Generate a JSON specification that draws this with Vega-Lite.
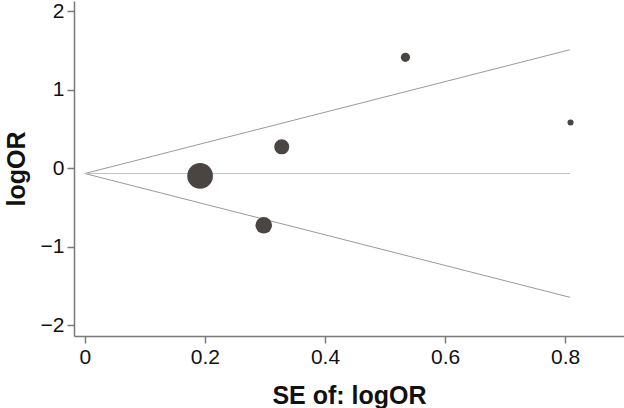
{
  "$schema": "https://vega.github.io/schema/vega-lite/v6.json",
  "width": 550,
  "height": 335,
  "autosize": "none",
  "padding": {"left": 74, "top": 1, "right": 0, "bottom": 72},
  "background": "white",
  "config": {
    "view": {"stroke": null},
    "font": "Liberation Sans",
    "axis": {
      "grid": false,
      "domainColor": "#7a7a7a",
      "domainWidth": 1.5,
      "tickColor": "#7a7a7a",
      "tickWidth": 1.5,
      "tickSize": 7,
      "labelFont": "Liberation Sans",
      "labelFontSize": 21,
      "labelColor": "#111",
      "labelPadding": 3,
      "titleFont": "Liberation Sans",
      "titleFontSize": 25,
      "titleFontWeight": "bold",
      "titleColor": "#111"
    }
  },
  "datasets": {
    "studies": [
      {"se": 0.192, "logOR": -0.10, "weight": 27.1},
      {"se": 0.328, "logOR": 0.27, "weight": 9.3},
      {"se": 0.298, "logOR": -0.73, "weight": 11.3},
      {"se": 0.534, "logOR": 1.41, "weight": 3.5},
      {"se": 0.809, "logOR": 0.58, "weight": 1.53}
    ],
    "lines": [
      {"line": "upper", "se": 0, "logOR": -0.07},
      {"line": "upper", "se": 0.808, "logOR": 1.507},
      {"line": "lower", "se": 0, "logOR": -0.07},
      {"line": "lower", "se": 0.808, "logOR": -1.647},
      {"line": "center", "se": 0, "logOR": -0.07},
      {"line": "center", "se": 0.808, "logOR": -0.07}
    ]
  },
  "layer": [
    {
      "data": {"name": "lines"},
      "mark": {"type": "line", "strokeWidth": 1},
      "encoding": {
        "x": {"field": "se", "type": "quantitative", "scale": {"domain": [-0.018, 0.898], "nice": false, "zero": false},
              "axis": {"values": [0, 0.2, 0.4, 0.6, 0.8], "title": "SE of: logOR", "titlePadding": 16, "format": "~g"}},
        "y": {"field": "logOR", "type": "quantitative", "scale": {"domain": [-2.14, 2.128], "nice": false, "zero": false},
              "axis": {"values": [-2, -1, 0, 1, 2], "title": "logOR", "titlePadding": 11, "format": "~g"}},
        "detail": {"field": "line"},
        "color": {"field": "line", "type": "nominal", "scale": {"domain": ["upper", "lower", "center"], "range": ["#9a9a9a", "#9a9a9a", "#c4c4c4"]}, "legend": null}
      }
    },
    {
      "data": {"name": "studies"},
      "mark": {"type": "circle", "color": "#4a4542", "opacity": 1},
      "encoding": {
        "x": {"field": "se", "type": "quantitative"},
        "y": {"field": "logOR", "type": "quantitative"},
        "size": {"field": "weight", "type": "quantitative", "scale": {"domain": [0, 27.1], "range": [0, 660]}, "legend": null}
      }
    }
  ]
}
